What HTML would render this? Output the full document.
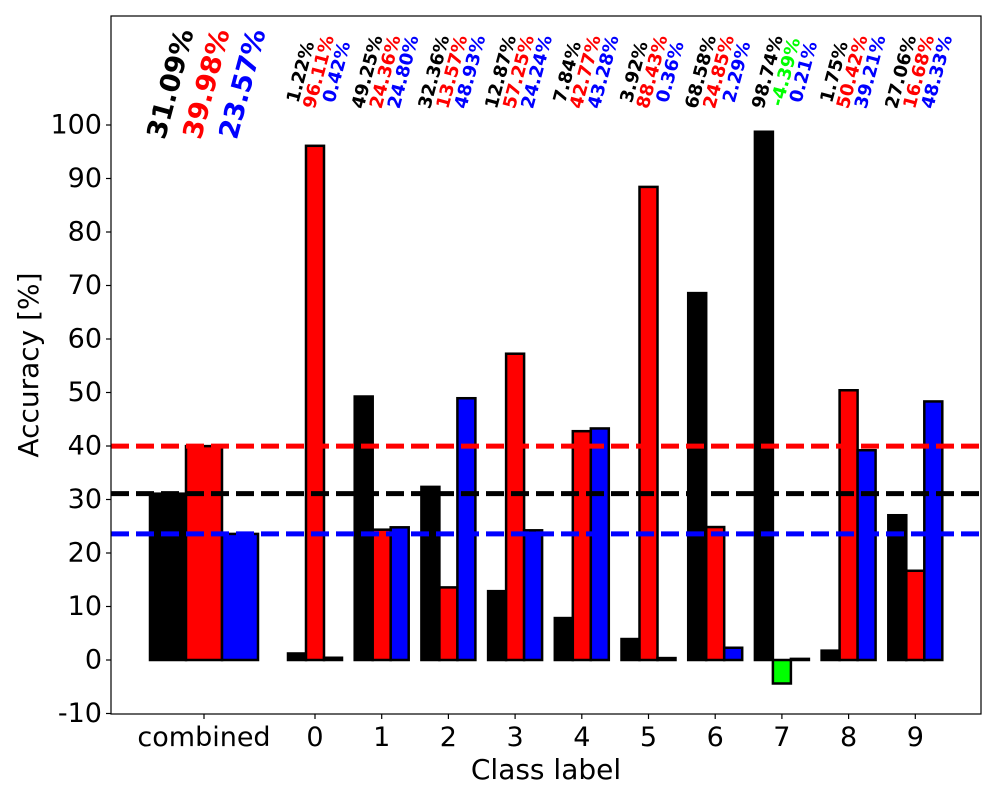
<!DOCTYPE html>
<html><head><meta charset="utf-8"><style>
body{margin:0;background:#fff;}
svg text{font-family:"DejaVu Sans","Liberation Sans",sans-serif;}
</style></head><body>
<svg id="chart" width="1000" height="800">
<g id="bars"></g>
<g id="lines"></g>
<g id="labels"></g>
<g id="axes"></g>
</svg>
<script>
const categories=["0","1","2","3","4","5","6","7","8","9"];
const blackVals=[1.22,49.25,32.36,12.87,7.84,3.92,68.58,98.74,1.75,27.06];
const redVals=[96.11,24.36,13.57,57.25,42.77,88.43,24.85,-4.39,50.42,16.68];
const blueVals=[0.42,24.80,48.93,24.24,43.28,0.36,2.29,0.21,39.21,48.33];
const combinedVals=[31.09,39.98,23.57];
const yTicks=[-10,0,10,20,30,40,50,60,70,80,90,100];
const NS="http://www.w3.org/2000/svg";
const L=111,R=981,T=16,B=714;
function y(v){return 660-v*5.35;}
function xc(i){return 315+i*66.7;}
const xComb=204;
function mk(tag,attrs,parent){const e=document.createElementNS(NS,tag);for(const k in attrs)e.setAttribute(k,attrs[k]);document.getElementById(parent).appendChild(e);return e;}
function bar(cx,w,v,color,name){
  const r=mk('rect',{x:cx-w/2,y:Math.min(y(v),y(0)),width:w,height:Math.abs(y(v)-y(0)),fill:color,stroke:'#000','stroke-width':2.5},'bars');
  
  
}
function label(cx,cy,v,color,size,name){
  const t=mk('text',{x:cx,y:cy,fill:color,'font-size':size,'font-weight':'bold','text-anchor':'middle','dominant-baseline':'central',transform:`rotate(-75 ${cx} ${cy})`},'labels');
  t.textContent=v.toFixed(2)+'%';
  
  
}
const cols=['#000','#f00','#00f'];
combinedVals.forEach((v,j)=>{
  bar(xComb+(j-1)*36,36,v,cols[j],'combined-bar-'+j);
  label(xComb+(j-1)*36+3,84,v,cols[j],27,'combined-label-'+j);
  const ln=mk('line',{x1:L,x2:R,y1:y(v),y2:y(v),stroke:cols[j],'stroke-width':5,'stroke-dasharray':'18,7'},'lines');
  
  
});
categories.forEach((c,i)=>{
  const sets=[blackVals,redVals,blueVals];
  sets.forEach((s,j)=>{
    const v=s[i];const col=(v<0)?'#0f0':cols[j];
    bar(xc(i)+(j-1)*18,18,v,col,'bar-class'+c+'-'+j);
    label(xc(i)+(j-1)*18+4,72,v,col,18,'label-class'+c+'-'+j);
  });
});
const fr=mk('rect',{x:L,y:T,width:R-L,height:B-T,fill:'none',stroke:'#000','stroke-width':1.2},'axes');


yTicks.forEach(v=>{
  mk('line',{x1:L-5,x2:L,y1:y(v),y2:y(v),stroke:'#000','stroke-width':1.2},'axes');
  const t=mk('text',{x:L-9,y:y(v),'font-size':27,'text-anchor':'end','dominant-baseline':'central'},'axes');
  t.textContent=v;
  
  
});
const xl=['combined'].concat(categories);
xl.forEach((c,i)=>{
  const x=i==0?xComb:xc(i-1);
  mk('line',{x1:x,x2:x,y1:B,y2:B+5,stroke:'#000','stroke-width':1.2},'axes');
  const t=mk('text',{x:x,y:746,'font-size':27,'text-anchor':'middle'},'axes');
  t.textContent=c;
  
  
});
const xt=mk('text',{x:546,y:779,'font-size':28,'text-anchor':'middle'},'axes');
xt.textContent='Class label';


const yt=mk('text',{x:38,y:365,'font-size':28,'text-anchor':'middle',transform:'rotate(-90 38 365)'},'axes');
yt.textContent='Accuracy [%]';


</script>
</body></html>
